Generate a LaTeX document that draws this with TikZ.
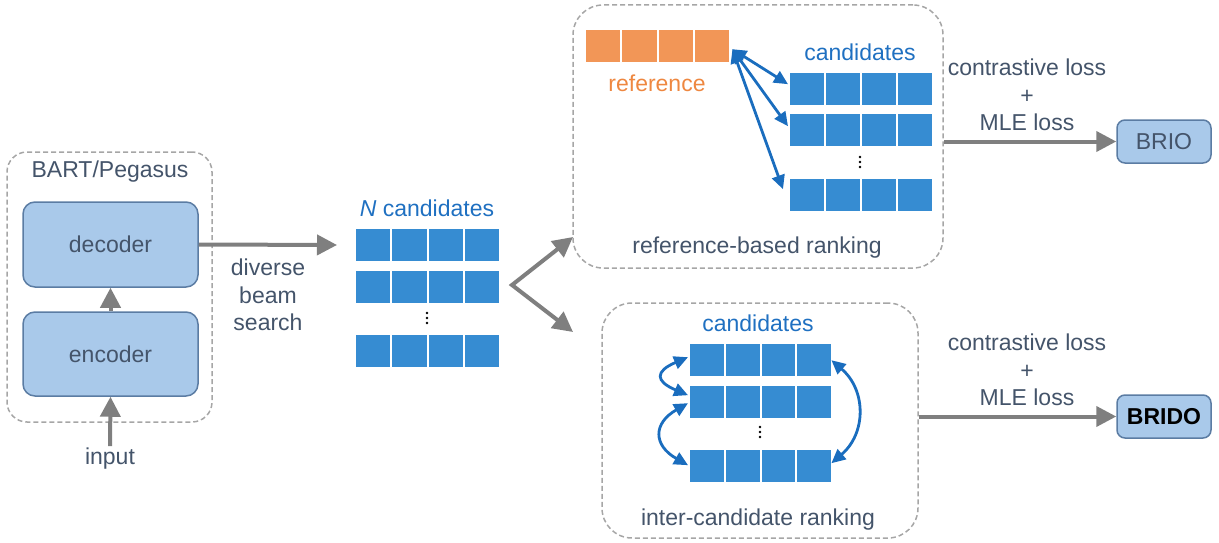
\documentclass[tikz,border=0pt]{standalone}
\usepackage{fontspec}
\setmainfont{Liberation Sans}
\usetikzlibrary{arrows.meta}
\definecolor{txt}{HTML}{44546A}
\definecolor{cellblue}{HTML}{368CD2}
\definecolor{txtblue}{HTML}{1F70C1}
\definecolor{cellorange}{HTML}{F29657}
\definecolor{txtorange}{HTML}{EE8740}
\definecolor{boxfill}{HTML}{A9C9EA}
\definecolor{boxedge}{HTML}{5B7CA3}
\definecolor{arrgray}{HTML}{7F7F7F}
\definecolor{dashgray}{HTML}{A6A6A6}
\definecolor{arrblue}{HTML}{1A6DBE}
\newcommand\mkrow[6]{%
  \node[rowbox, minimum width=#4pt, minimum height=#5pt] (#1) at (#2,#3) {};
  \foreach \i in {0,1,2,3}
    \node[cellbox, fill=#6, minimum width=#4pt/4, minimum height=#5pt] (#1-\i) at ({#2+\i*#4/4},#3) {};
}
\newcommand\mkdots[3]{%
  \node[dotsnode] (#1) at (#2,#3) {};
  \foreach \d in {-5,0,5} \fill[black] ([yshift=\d pt]#1.center) circle (1.3pt);
}
\begin{document}
\begin{tikzpicture}[x=1pt,y=-1pt,
  every node/.style={font=\fontsize{23}{27.5}\selectfont, text=txt},
  dashbox/.style={draw=dashgray, dash pattern=on 5pt off 3pt, line width=1.5pt, rounded corners=25pt, inner sep=0pt},
  modelbox/.style={draw=boxedge, fill=boxfill, line width=1.5pt, rounded corners=12pt, inner sep=0pt},
  resbox/.style={draw=boxedge, fill=boxfill, line width=1.5pt, rounded corners=8pt, inner sep=0pt, minimum width=94pt, minimum height=43pt},
  garrow/.style={draw=arrgray, line width=4pt, -{Triangle[length=20pt,width=20pt]}},
  gdouble/.style={draw=arrgray, line width=4pt, {Triangle[length=20pt,width=20pt]}-{Triangle[length=20pt,width=20pt]}},
  barrow/.style={draw=arrblue, line width=2.8pt, {Triangle[length=14pt,width=13pt]}-{Triangle[length=14pt,width=13pt]}},
  rowbox/.style={inner sep=0pt, anchor=north west},
  cellbox/.style={draw=white, line width=2pt, inner sep=0pt, anchor=north west},
  dotsnode/.style={inner sep=0pt, minimum size=2pt},
  bluetxt/.style={text=txtblue},
]
\useasboundingbox (0,0) rectangle (1219,543);

% left model box
\node[dashbox, rounded corners=20pt, minimum width=205pt, minimum height=270pt] (bart) at (109.5,287) {};
\node (bartlbl) at (110,172) {BART/Pegasus};
\node[modelbox, minimum width=175pt, minimum height=85pt] (dec) at (110.5,244.5) {decoder};
\node[modelbox, minimum width=175pt, minimum height=84pt] (enc) at (110.5,354) {encoder};
\node[inner sep=2pt] (inp) at (110,459) {input};
\draw[garrow] (inp.north) -- (enc.south);
\draw[garrow] (enc.north) -- (dec.south);

% N candidates
\node[bluetxt] (ntitle) at (427,208) {\textit{N} candidates};
\mkrow{n1}{354}{227}{145}{34}{cellblue}
\mkrow{n2}{354}{269}{145}{34}{cellblue}
\mkdots{ndots}{427}{318}
\mkrow{n3}{354}{333}{145}{34}{cellblue}
\coordinate (dend) at (337,245);
\draw[garrow] (dec.east) -- (dend);
\node[align=center] (dbs) at (268,295) {diverse\\beam\\search};

% fork
\coordinate (fork) at (512,285);
\coordinate (forkT) at (573,237);
\coordinate (forkB) at (573,332);
\draw[gdouble, line join=miter] (forkT) -- (fork) -- (forkB);

% reference-based ranking
\node[dashbox, rounded corners=30pt, minimum width=370pt, minimum height=263pt] (topbox) at (758,136.5) {};
\mkrow{ref}{584}{28}{145}{34}{cellorange}
\node[text=txtorange] (reflbl) at (657,83) {reference};
\node[bluetxt] (tcand) at (860,52) {candidates};
\mkrow{t1}{788}{71}{144}{34}{cellblue}
\mkrow{t2}{788}{112}{144}{34}{cellblue}
\mkdots{tdots}{860}{162}
\mkrow{t3}{788}{177}{144}{34}{cellblue}
\node (rbr) at (757,248) {reference-based ranking};
\draw[barrow] ([xshift=3pt,yshift=-4pt]ref.east) -- ([yshift=4pt]t1.west);
\draw[barrow] ([xshift=3pt,yshift=-4pt]ref.east) -- ([yshift=3pt]t2.west);
\draw[barrow] ([xshift=3pt,yshift=-4pt]ref.east) -- ([xshift=-5pt,yshift=5pt]t3.west);

% inter-candidate ranking
\node[dashbox, rounded corners=30pt, minimum width=316pt, minimum height=235pt] (botbox) at (760,420.5) {};
\node[bluetxt] (bcand) at (758,323) {candidates};
\mkrow{b1}{688}{342}{143}{34}{cellblue}
\mkrow{b2}{688}{384}{143}{34}{cellblue}
\mkdots{bdots}{760}{432}
\mkrow{b3}{688}{448}{143}{34}{cellblue}
\node (icr) at (758,520) {inter-candidate ranking};
\draw[barrow] ([yshift=2pt]b1.west) .. controls +(-33,14) and +(-33,-14) .. ([yshift=6pt]b2.west);
\draw[barrow] ([yshift=-2pt]b2.west) .. controls +(-35,20) and +(-35,-20) .. (b3.west);
\draw[barrow] ([yshift=-1pt]b1.east) .. controls +(35,30) and +(35,-30) .. ([yshift=2pt]b3.east);

% outputs
\node[resbox] (brio) at (1164,141.5) {BRIO};
\node[resbox] (brido) at (1164,416.5) {\textbf{\color{black}BRIDO}};
\draw[garrow] (brio.west -| topbox.east) -- (brio.west);
\draw[garrow] (brido.west -| botbox.east) -- (brido.west);
\node[align=center] (loss1) at (1027,95) {contrastive loss\\+\\MLE loss};
\node[align=center] (loss2) at (1027,370) {contrastive loss\\+\\MLE loss};
\end{tikzpicture}
\end{document}
